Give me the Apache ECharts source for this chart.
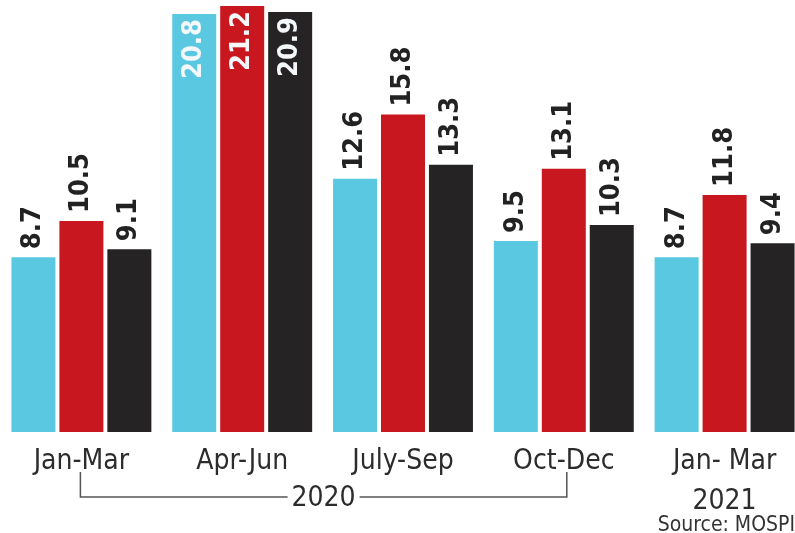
<!DOCTYPE html>
<html>
<head>
<meta charset="utf-8">
<script src="https://cdn.jsdelivr.net/npm/echarts@6/dist/echarts.min.js"></script>
<style>
html,body{margin:0;padding:0;background:#fff;}
#c{width:795px;height:533px;}
</style>
</head>
<body>
<div id="c"></div>
<script>
var categories = ['Jan-Mar', 'Apr-Jun', 'July-Sep', 'Oct-Dec', 'Jan- Mar\n2021'];
var seriesA = [8.7, 20.8, 12.6, 9.5, 8.7];
var seriesB = [10.5, 21.2, 15.8, 13.1, 11.8];
var seriesC = [9.1, 20.9, 13.3, 10.3, 9.4];
var yearLabel = '2020';
var sourceText = 'Source: MOSPI';

var colors = ['#5bc8e2', '#c8171f', '#252324'];
var FONT = '"Liberation Sans Narrow", "DejaVu Sans Condensed", sans-serif';

function makeData(vals) {
  return vals.map(function (v) {
    if (v > 19) {
      return {
        value: v,
        label: { position: 'insideTop', align: 'right', distance: 5, color: '#f4f8fa' }
      };
    }
    return v;
  });
}

function makeSeries(vals, color) {
  return {
    type: 'bar',
    data: makeData(vals),
    barWidth: 44,
    barGap: '9%',
    itemStyle: { color: color },
    label: {
      show: true,
      position: 'top',
      rotate: 90,
      align: 'left',
      verticalAlign: 'middle',
      distance: 8,
      fontFamily: FONT,
      fontWeight: 'bold',
      fontSize: 27,
      color: '#222'
    }
  };
}

var chart = echarts.init(document.getElementById('c'));
chart.setOption({
  animation: false,
  backgroundColor: '#fff',
  grid: { left: 1, width: 804, top: 0, height: 432, outerBoundsMode: 'none', containLabel: false },
  xAxis: {
    type: 'category',
    data: categories,
    axisLine: { show: false },
    axisTick: { show: false },
    axisLabel: {
      interval: 0,
      fontFamily: FONT,
      fontSize: 28,
      color: '#2c2c2c',
      lineHeight: 40,
      margin: 10
    }
  },
  yAxis: {
    type: 'value',
    min: 0,
    max: 21.5,
    show: false,
    splitLine: { show: false }
  },
  series: [
    makeSeries(seriesA, colors[0]),
    makeSeries(seriesB, colors[1]),
    makeSeries(seriesC, colors[2])
  ]
});

var x0 = chart.convertToPixel({ xAxisIndex: 0 }, 0) - 1;
var x3 = chart.convertToPixel({ xAxisIndex: 0 }, 3) + 3;
var xm = (x0 + x3) / 2;
var yTop = 472, yLine = 497;
var lineStyle = { stroke: '#555', lineWidth: 1.5 };
chart.setOption({
  graphic: [
    { type: 'polyline', shape: { points: [[x0, yTop], [x0, yLine], [xm - 36, yLine]] }, style: lineStyle },
    { type: 'polyline', shape: { points: [[xm + 36, yLine], [x3, yLine], [x3, yTop]] }, style: lineStyle },
    {
      type: 'text', x: xm, y: yLine + 2,
      style: { text: yearLabel, font: '28px ' + FONT, fill: '#2c2c2c', align: 'center', verticalAlign: 'middle' }
    },
    {
      type: 'text', x: 795, y: 526,
      style: { text: sourceText, font: '21px ' + FONT, fill: '#333', align: 'right', verticalAlign: 'middle' }
    }
  ]
});
</script>
</body>
</html>
